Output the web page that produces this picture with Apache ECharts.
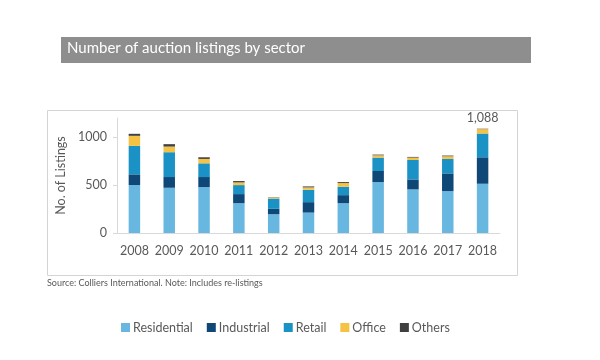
<!DOCTYPE html>
<html><head><meta charset="utf-8">
<script src="https://cdn.jsdelivr.net/npm/echarts@6/dist/echarts.min.js"></script>
<style>html,body{margin:0;padding:0;background:#fff}#c{width:600px;height:360px}</style>
</head><body><div id="c"></div>
<script>
const years = ['2008','2009','2010','2011','2012','2013','2014','2015','2016','2017','2018'];
const residential = [500,472,479,311,196,213,311,531,455,437,514];
const industrial  = [112,112,105, 95, 56,109, 84,116,104,185,276];
const retail      = [297,259,143, 94,108,129, 88,140,203,151,248];
const office      = [105, 59, 46, 28, 11, 25, 38, 24, 25, 28, 46];
const others      = [ 21, 25, 17, 14,  3, 10, 10,  7,  7,  7,  4];
const yTicks = [0,500,1000];
const seriesNames = ['Residential','Industrial','Retail','Office','Others'];
const colors = ['#68b7e0','#0f4777','#1a92c6','#f6c244','#404040'];
const FONT = 'Lato';
const dataSets = [residential,industrial,retail,office,others];
const totals = years.map((_,i)=>dataSets.reduce((s,a)=>s+a[i],0));

const chart = echarts.init(document.getElementById('c'));
chart.setOption({
  animation:false,
  textStyle:{fontFamily:FONT},
  graphic:[
    {type:'rect',shape:{x:61,y:37,width:470,height:26},style:{fill:'#8e8e8e'}},
    {type:'text',left:67,top:41,style:{text:'Number of auction listings by sector',fill:'#ffffff',font:'15px '+FONT}},
    {type:'rect',shape:{x:47.5,y:110.5,width:470,height:165},style:{fill:'none',stroke:'#d4d4d4',lineWidth:1}},
    {type:'text',left:47,top:279,style:{text:'Source: Colliers International. Note: Includes re-listings',fill:'#595959',font:'9px '+FONT}}
  ],
  legend:{
    data:seriesNames, top:316, left:116, itemWidth:9, itemHeight:9, itemGap:14,
    icon:'rect', textStyle:{color:'#595959',fontSize:12.5,fontFamily:FONT,padding:[0,0,0,-2]}
  },
  grid:{left:117,right:100,top:118,bottom:127},
  xAxis:{type:'category',data:years,
    axisLine:{lineStyle:{color:'#d9d9d9'}},axisTick:{show:false},
    axisLabel:{color:'#595959',fontSize:12.5,margin:11,interval:0}},
  yAxis:{type:'value',min:0,max:1200,interval:500,
    name:'No. of Listings',nameLocation:'middle',nameGap:45,nameRotate:90,
    nameTextStyle:{color:'#595959',fontSize:12.5},
    axisLine:{show:true,lineStyle:{color:'#d9d9d9'}},
    axisTick:{show:true,length:4,lineStyle:{color:'#d9d9d9'},customValues:yTicks},
    axisLabel:{color:'#595959',fontSize:12.5,margin:10,customValues:yTicks,formatter:v=>String(v)},
    splitLine:{show:false}},
  series: seriesNames.map((n,k)=>({
    name:n,type:'bar',stack:'a',barWidth:'33%',
    itemStyle:{color:colors[k]},
    data: dataSets[k].map((v,i)=> (k===4 && i===years.length-1) ? {value:v,label:{show:true,position:'top',distance:4,color:'#595959',fontSize:12.5,
      formatter:()=>totals[i].toLocaleString('en-US')}} : v)
  })),
  color:colors
});
</script></body></html>
